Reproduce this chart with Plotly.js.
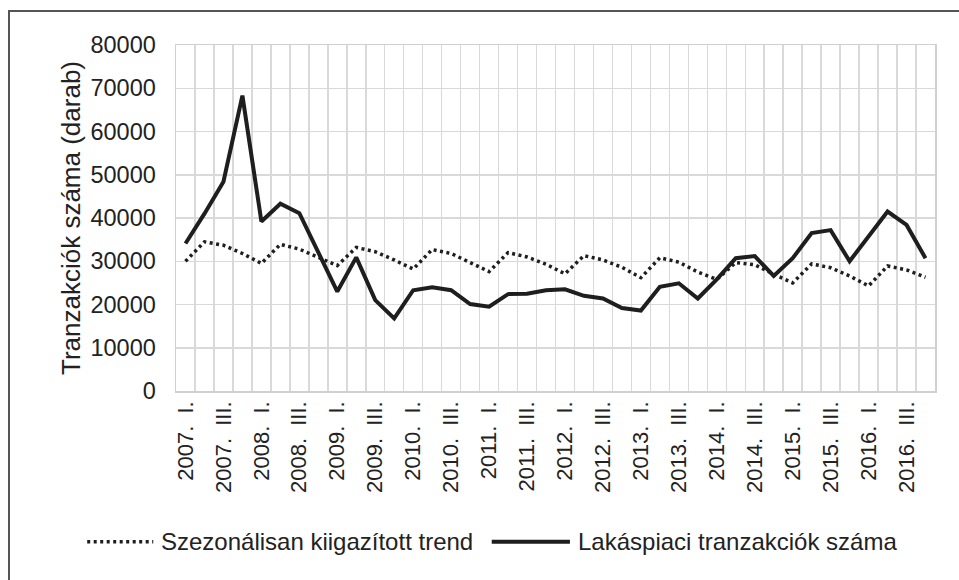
<!DOCTYPE html>
<html>
<head>
<meta charset="utf-8">
<script src="https://cdn.plot.ly/plotly-3.0.1.min.js"></script>
<style>
  html, body { margin: 0; padding: 0; background: #ffffff; }
  #wrap { position: relative; width: 959px; height: 580px; overflow: hidden; }
  #frame { position: absolute; left: 8px; top: 10px; width: 1000px; height: 1000px;
           border-left: 2px solid #555; border-top: 2px solid #555; box-sizing: border-box; }
  #chart { position: absolute; left: 0; top: 0; width: 959px; height: 580px; }
</style>
</head>
<body>
<div id="wrap">
  <div id="frame"></div>
  <div id="chart"></div>
</div>
<script>
const years = [2007, 2008, 2009, 2010, 2011, 2012, 2013, 2014, 2015, 2016];
const quarterNames = ["I.", "II.", "III.", "IV."];
const quarters = [];
years.forEach(y => quarterNames.forEach(q => quarters.push(y + ". " + q)));

const tranzakciok = [
  34100, 41000, 48400, 68300, 39200, 43300, 41100, 32000,
  23000, 30900, 21000, 16800, 23300, 24000, 23300, 20100,
  19500, 22400, 22500, 23300, 23500, 22000, 21400, 19200,
  18600, 24100, 24900, 21400, 25800, 30700, 31200, 26600,
  30700, 36500, 37200, 30000, 35700, 41500, 38400, 30700
];

const trend = [
  30000, 34500, 33700, 31800, 29500, 33900, 32800, 31000,
  29000, 33200, 32200, 30300, 28200, 32700, 31800, 29700,
  27600, 32000, 31000, 29300, 27100, 31300, 30300, 28600,
  26200, 30800, 29800, 27500, 25800, 29700, 29200, 27000,
  25000, 29400, 28500, 26600, 24300, 28900, 28000, 26300
];

const seriesNames = ["Szezonálisan kiigazított trend", "Lakáspiaci tranzakciók száma"];
const yAxisTitle = "Tranzakciók száma (darab)";

const xIdx = quarters.map((_, i) => i);
const labelIdx = xIdx.filter(i => i % 2 === 0);
// slightly wider gap between year and quarter, as in the reference
const labelText = labelIdx.map(i => quarters[i].replace(". ", ".\u00a0\u00a0"));

const dotDash = "3px,3.5px";
const lineColor = "#1e1e1e";

const data = [
  {
    x: xIdx, y: trend, name: seriesNames[0], type: "scatter", mode: "lines",
    line: { color: lineColor, width: 3.5, dash: dotDash },
    text: quarters, hoverinfo: "text+y", showlegend: false
  },
  {
    x: xIdx, y: tranzakciok, name: seriesNames[1], type: "scatter", mode: "lines",
    line: { color: lineColor, width: 4 },
    text: quarters, hoverinfo: "text+y", showlegend: false
  }
];

const font = { family: "Liberation Sans, Arial, sans-serif", color: "#222222" };

// manual legend (paper coordinates relative to the plot area)
const legY = -0.436;
const shapes = [
  { type: "line", xref: "paper", yref: "paper", x0: -0.117, x1: -0.030, y0: legY, y1: legY,
    line: { color: lineColor, width: 3.5, dash: dotDash } },
  { type: "line", xref: "paper", yref: "paper", x0: 0.416, x1: 0.519, y0: legY, y1: legY,
    line: { color: lineColor, width: 4 } }
];
const annotations = [
  { xref: "paper", yref: "paper", x: -0.022, y: legY, xanchor: "left", yanchor: "middle",
    text: seriesNames[0], showarrow: false, font: Object.assign({ size: 24 }, font) },
  { xref: "paper", yref: "paper", x: 0.527, y: legY, xanchor: "left", yanchor: "middle",
    text: seriesNames[1], showarrow: false, font: Object.assign({ size: 24 }, font) }
];

const layout = {
  width: 959, height: 580,
  margin: { l: 176, r: 24, t: 45, b: 189 },
  paper_bgcolor: "rgba(0,0,0,0)",
  plot_bgcolor: "rgba(0,0,0,0)",
  font: Object.assign({ size: 20 }, font),
  showlegend: false,
  shapes: shapes,
  annotations: annotations,
  xaxis: {
    range: [-0.5, 39.5],
    tickmode: "array", tickvals: labelIdx, ticktext: labelText,
    tickangle: -90, tickfont: Object.assign({ size: 22 }, font),
    showgrid: false, zeroline: false, ticks: "",
    showline: true, linecolor: "#d0d0d0", linewidth: 1.5, mirror: true,
    minor: { tick0: 0.5, dtick: 1, showgrid: true, gridcolor: "#d9d9d9", gridwidth: 1.5, ticks: "" },
    fixedrange: true
  },
  yaxis: {
    range: [0, 80000], dtick: 10000, tick0: 0,
    tickformat: "d",
    tickfont: Object.assign({ size: 23.5 }, font),
    showgrid: true, gridcolor: "#d9d9d9", gridwidth: 1.5, zeroline: false,
    showline: true, linecolor: "#d0d0d0", linewidth: 1.5, mirror: true,
    ticks: "outside", ticklen: 14, tickcolor: "rgba(0,0,0,0)",
    title: { text: yAxisTitle, font: Object.assign({ size: 26 }, font), standoff: 2 },
    fixedrange: true
  }
};

Plotly.newPlot("chart", data, layout, { displayModeBar: false, staticPlot: true });
</script>
</body>
</html>
